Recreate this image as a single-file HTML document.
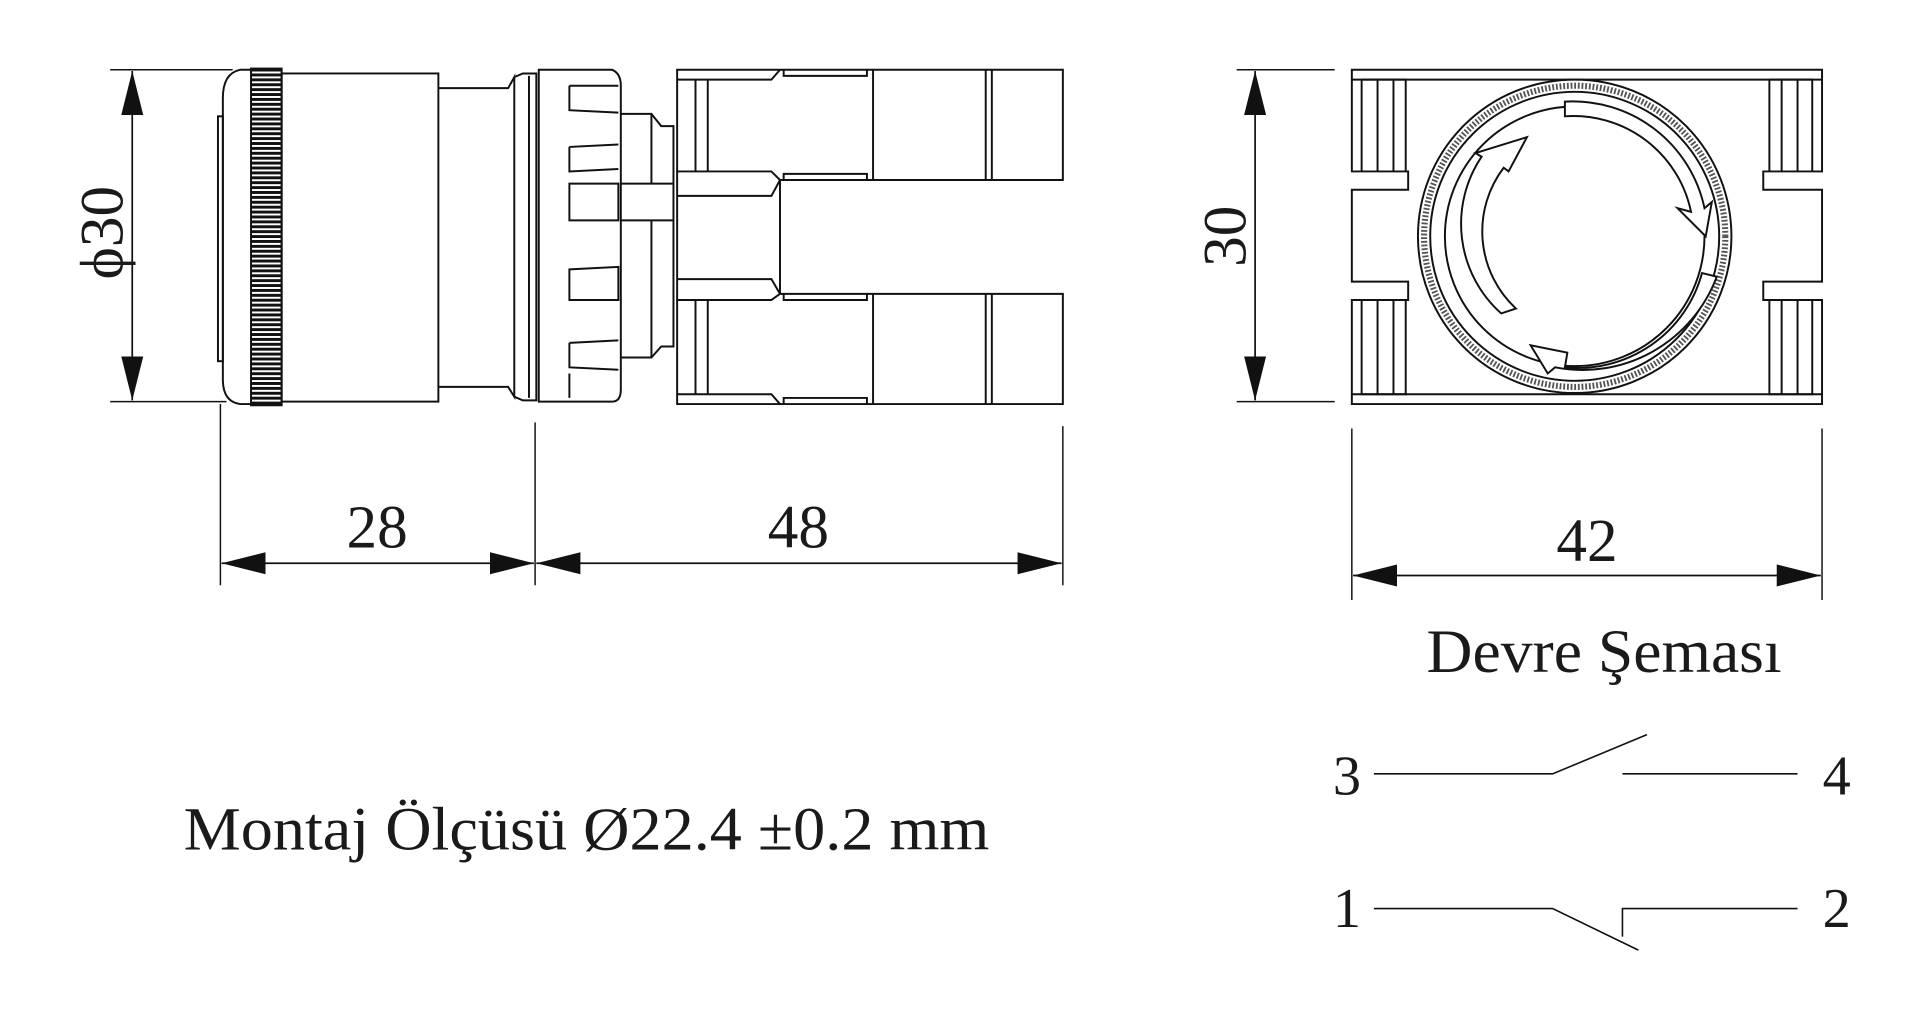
<!DOCTYPE html>
<html><head><meta charset="utf-8"><style>html,body{margin:0;padding:0;background:#fff;overflow:hidden}svg{display:block}text{font-family:"Liberation Serif",serif;fill:#1a1a1a}</style></head><body>
<svg width="1920" height="1023" viewBox="0 0 1568 835.5" preserveAspectRatio="none" xmlns="http://www.w3.org/2000/svg">
<defs>
<marker id="a" viewBox="0 0 36 18" refX="36" refY="9" markerWidth="36" markerHeight="18" markerUnits="userSpaceOnUse" orient="auto-start-reverse"><path d="M0,0 L36,9 L0,18Z" fill="#111"/></marker>
<pattern id="k" width="2" height="4" patternUnits="userSpaceOnUse"><rect width="2" height="2.4" fill="#111"/></pattern>
</defs>
<g fill="none" stroke="#111" stroke-width="1.6">
<path d="M205,57 L196,57 Q182,60 182,80 L182,310 Q182,328 196,330 L205,330"/>
<rect x="178" y="95" width="4" height="200"/>
<rect x="205" y="56" width="25" height="275" fill="url(#k)"/>
<rect x="230" y="60" width="128" height="268"/>
<path d="M358,72 L415,72 L420,63 L420,324 L415,316 L358,316"/>
<path d="M420,63 L427,60 L438,60 L438,327 L427,327 L420,324"/>
<line x1="432" y1="62" x2="432" y2="325"/>
<path d="M440,57 L500,57 Q507,60 507,70 L507,318 Q507,328 500,328 L440,328Z"/>
<path d="M465,70 L505,70 M465,70 L465,90 L505,92 M465,120 L505,118 M465,120 L465,140 L505,138 M465,150 L505,150 L505,180 L465,180 Z M465,220 L505,218 L505,245 L465,245Z M465,280 L505,278 M465,280 L465,300 L505,302 M465,305 L465,325"/>
<path d="M507,93 L532,93 L540,103 L550,103 L550,283 L540,283 L532,292 L507,292"/>
<line x1="507" y1="150" x2="550" y2="150"/><line x1="507" y1="180" x2="550" y2="180"/>
<line x1="532" y1="93" x2="532" y2="150"/><line x1="532" y1="180" x2="532" y2="292"/>
<path d="M553,57 L868,57 L868,147 L637,147 L630,140 L553,140 Z"/>
<path d="M553,330 L868,330 L868,240 L637,240 L630,245 L553,245 Z"/>
<path d="M553,140 L553,245 M637,147 L637,240"/>
<path d="M553,65 L630,65 L637,57 M553,160 L630,160 L637,147 M553,228 L630,228 L637,240 M553,322 L630,322 L637,330"/>
<path d="M568,65 L568,140 M578,65 L578,140 M568,245 L568,322 M578,245 L578,322"/>
<path d="M640,57 L640,62 L708,62 L708,57 M640,147 L640,142 L708,142 L708,147 M640,240 L640,245 L708,245 L708,240 M640,330 L640,325 L708,325 L708,330"/>
<path d="M713,57 L713,147 M805,57 L805,147 M810,57 L810,147 M713,240 L713,330 M805,240 L805,330 M810,240 L810,330"/>
<g stroke-width="1.2"><path d="M90,57 L190,57 M90,328 L185,328 M180,330 L180,478 M437,345 L437,478 M868,348 L868,478"/></g>
<line x1="108" y1="58" x2="108" y2="327" stroke-width="1.4" marker-start="url(#a)" marker-end="url(#a)"/>
<line x1="181" y1="460" x2="436" y2="460" stroke-width="1.4" marker-start="url(#a)" marker-end="url(#a)"/>
<line x1="438" y1="460" x2="867" y2="460" stroke-width="1.4" marker-start="url(#a)" marker-end="url(#a)"/>
<path d="M1104,57 L1488,57 L1488,140 L1440,140 L1440,155 L1488,155 L1488,230 L1440,230 L1440,245 L1488,245 L1488,330 L1104,330 L1104,245 L1150,245 L1150,230 L1104,230 L1104,155 L1150,155 L1150,140 L1104,140 Z"/>
<path d="M1112,65 L1148,65 L1148,140 M1112,65 L1112,140 M1125,65 L1125,140 M1138,65 L1138,140 M1112,245 L1112,322 L1148,322 L1148,245 M1125,245 L1125,322 M1138,245 L1138,322"/>
<path d="M1445,65 L1480,65 L1480,140 M1445,65 L1445,140 M1455,65 L1455,140 M1468,65 L1468,140 M1445,245 L1445,322 L1480,322 L1480,245 M1455,245 L1455,322 M1468,245 L1468,322"/>
<path d="M1104,65 L1488,65 M1104,322 L1488,322"/>
<circle cx="1286" cy="193" r="128" fill="#fff"/>
<circle cx="1286" cy="193" r="123" stroke="#555" stroke-width="5" stroke-dasharray="1.5 1.5"/>
<circle cx="1286" cy="193" r="118"/>
<circle cx="1286" cy="193" r="106"/>
<path d="M1278,95 A98,98 0 0 1 1381,173 L1370,170 L1393,193 L1398,165 L1392,170 A110,110 0 0 0 1278,83 Z" fill="#fff"/>
<path d="M1390,223 A105,105 0 0 1 1278,300 L1280,288 L1250,282 L1264,305 L1270,300 A117,117 0 0 0 1402,226 Z" fill="#fff"/>
<path d="M1226,256 A98,98 0 0 1 1210,128 L1205,125 L1247,112 L1232,140 L1228,137 A86,86 0 0 0 1238,252 Z" fill="#fff"/>
<g stroke-width="1.2"><path d="M1010,57 L1090,57 M1010,328 L1090,328 M1104,350 L1104,490 M1488,350 L1488,490"/></g>
<line x1="1025" y1="58" x2="1025" y2="327" stroke-width="1.4" marker-start="url(#a)" marker-end="url(#a)"/>
<line x1="1105" y1="470" x2="1487" y2="470" stroke-width="1.4" marker-start="url(#a)" marker-end="url(#a)"/>
<g stroke-width="1.3">
<path d="M1122,632 L1268,632 L1345,600 M1325,632 L1468,632"/>
<path d="M1122,742 L1268,742 L1338,776 M1325,765 L1325,742 L1468,742"/>
</g>
</g>
<text x="0" y="0" font-size="50" text-anchor="middle" transform="translate(100,190) rotate(-90)">ϕ30</text>
<text x="308" y="447" font-size="50" text-anchor="middle">28</text>
<text x="652" y="447" font-size="50" text-anchor="middle">48</text>
<text x="0" y="0" font-size="50" text-anchor="middle" transform="translate(1017,193) rotate(-90)">30</text>
<text x="1296" y="458" font-size="50" text-anchor="middle">42</text>
<text x="1310" y="549" font-size="50" text-anchor="middle" textLength="290" lengthAdjust="spacingAndGlyphs">Devre Şeması</text>
<text x="1100" y="649" font-size="46" text-anchor="middle">3</text>
<text x="1500" y="649" font-size="46" text-anchor="middle">4</text>
<text x="1100" y="757" font-size="46" text-anchor="middle">1</text>
<text x="1500" y="757" font-size="46" text-anchor="middle">2</text>
<text x="150" y="694" font-size="50" textLength="658" lengthAdjust="spacingAndGlyphs">Montaj Ölçüsü Ø22.4 ±0.2 mm</text>
</svg>
</body></html>
